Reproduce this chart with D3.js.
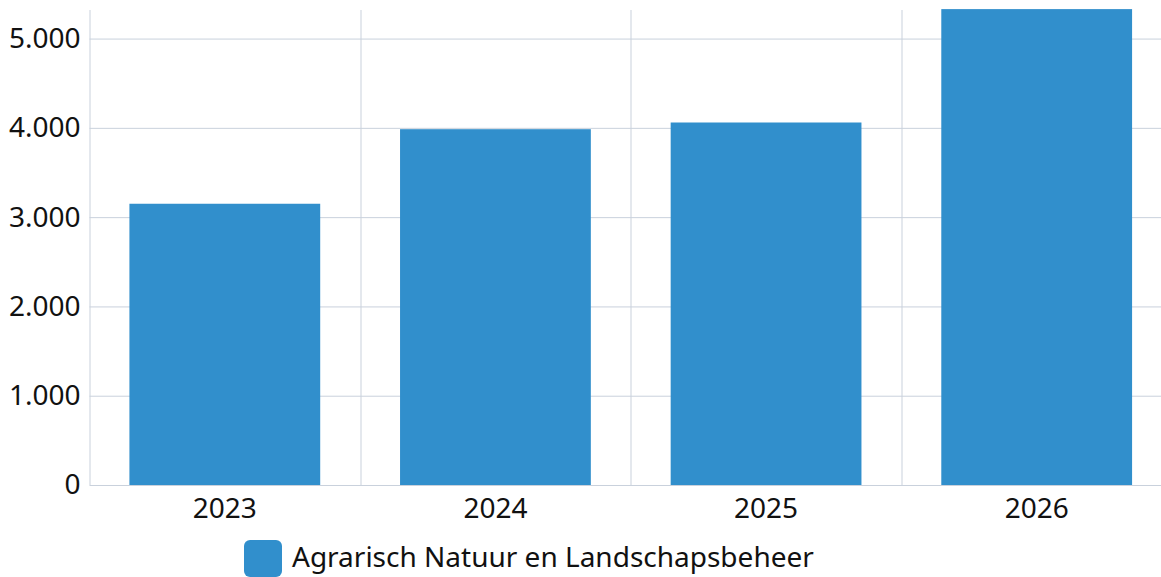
<!DOCTYPE html>
<html>
<head>
<meta charset="utf-8">
<script src="https://cdn.jsdelivr.net/npm/d3@7"></script>
<style>
  body { margin: 0; background: #fff; }
  svg { display: block; font-family: "Noto Sans", "Open Sans", sans-serif; }
</style>
</head>
<body>
<svg id="chart"></svg>
<script>
// values
const years = ["2023", "2024", "2025", "2026"];
const values = [3150, 3985, 4060, 5330];
const yTicks = [0, 1000, 2000, 3000, 4000, 5000];
const seriesName = "Agrarisch Natuur en Landschapsbeheer";

const W = 1161, H = 577;
const margin = {top: 10, right: -11, bottom: 92, left: 89.5};
const width = W - margin.left - margin.right;
const height = H - margin.top - margin.bottom;

const svg = d3.select("#chart").attr("width", W).attr("height", H);
const g = svg.append("g").attr("transform", `translate(${margin.left},${margin.top})`);

const x = d3.scaleBand().domain(years).range([0, width]).paddingInner(0.295).paddingOuter(0.1475);
const y = d3.scaleLinear().domain([0, 5320]).range([height, 0]);

const gridColor = "#c9d1dc";
const fmt = d3.format(",");
const nl = d => fmt(d).replace(/,/g, ".");

// horizontal grid
g.selectAll(".hgrid").data(yTicks).join("line")
  .attr("x1", 0).attr("x2", width)
  .attr("y1", d => y(d) + 0.5).attr("y2", d => y(d) + 0.5)
  .attr("stroke", gridColor).attr("stroke-width", 1);

// vertical grid at band boundaries
const bounds = d3.range(years.length + 1).map(i => i * width / years.length);
g.selectAll(".vgrid").data(bounds).join("line")
  .attr("x1", d => Math.round(d) + 0.5).attr("x2", d => Math.round(d) + 0.5)
  .attr("y1", 0).attr("y2", height)
  .attr("stroke", gridColor).attr("stroke-width", 1);

// bars
g.selectAll(".bar").data(values).join("rect")
  .attr("x", (d, i) => x(years[i]))
  .attr("width", x.bandwidth())
  .attr("y", d => y(d))
  .attr("height", d => height - y(d))
  .attr("fill", "#318fcc");

// y axis
const yAxis = g.append("g").call(d3.axisLeft(y).tickValues(yTicks).tickFormat(nl).tickSize(0).tickPadding(9));
yAxis.select(".domain").remove();
yAxis.selectAll("text").attr("font-size", 28).attr("fill", "#111").attr("font-family", "\"Noto Sans\", sans-serif");

// x axis
const xAxis = g.append("g").attr("transform", `translate(0,${height})`)
  .call(d3.axisBottom(x).tickSize(0).tickPadding(13));
xAxis.select(".domain").remove();
xAxis.selectAll("text").attr("font-size", 28).attr("fill", "#111").attr("font-family", "\"Noto Sans\", sans-serif");

// legend
const lg = svg.append("g").attr("transform", "translate(244,540)");
lg.append("rect").attr("width", 38).attr("height", 37).attr("rx", 6).attr("fill", "#318fcc");
lg.append("text").attr("x", 48).attr("y", 27).attr("font-size", 28).attr("fill", "#111").text(seriesName);
</script>
</body>
</html>
